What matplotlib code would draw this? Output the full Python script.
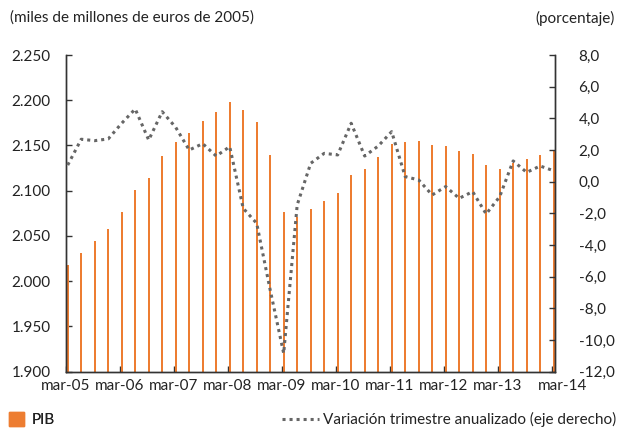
import matplotlib
matplotlib.use("Agg")
import matplotlib.pyplot as plt
import matplotlib.transforms as mtransforms
from matplotlib.lines import Line2D
from matplotlib.patches import Patch

plt.rcParams['font.family'] = ['Lato', 'DejaVu Sans']

# Quarterly data, mar-05 .. mar-14 (37 quarters)
pib = [2018, 2031, 2044, 2058, 2077, 2101, 2114, 2138, 2154, 2164,
       2177, 2187, 2198, 2189, 2176, 2140, 2077, 2071, 2080, 2089,
       2098, 2117, 2124, 2137, 2152, 2154, 2155, 2151, 2149, 2144,
       2141, 2128, 2124, 2131, 2135, 2139, 2144]
variacion = [1.05, 2.68, 2.59, 2.70, 3.69, 4.59, 2.63, 4.42, 3.43, 2.00,
             2.40, 1.62, 2.21, -1.68, -2.63, -6.84, -10.84, -1.47, 1.16, 1.79,
             1.69, 3.69, 1.62, 2.25, 3.16, 0.32, 0.11, -0.84, -0.31, -1.05,
             -0.63, -2.04, -0.95, 1.31, 0.59, 0.99, 0.69]
year_labels = ['mar-05', 'mar-06', 'mar-07', 'mar-08', 'mar-09',
               'mar-10', 'mar-11', 'mar-12', 'mar-13', 'mar-14']
left_ticks = [1900, 1950, 2000, 2050, 2100, 2150, 2200, 2250]
right_ticks = [-12, -10, -8, -6, -4, -2, 0, 2, 4, 6, 8]

orange = '#ED7D31'
grey = '#666666'
txt = '#222222'
fs = 11

fig = plt.figure(figsize=(6.17, 4.29), dpi=100)
ax = fig.add_axes([65.7 / 617, 1 - 371.7 / 429, (555 - 65.7) / 617, (371.7 - 55) / 429])
ax2 = ax.twinx()

x = list(range(len(pib)))
ax.bar(x, pib, width=0.14, color=orange, zorder=2)
ax2.plot(x, variacion, color=grey, lw=2.2, linestyle=(0, (1, 1.3)),
         dash_capstyle='butt', zorder=3)

ax.set_ylim(1900, 2250)
ax2.set_ylim(-12, 8)
ax.set_xlim(-0.15, 36.1)

ax.set_yticks(left_ticks)
ax.set_yticklabels(['{:,}'.format(v).replace(',', '.') for v in left_ticks])
ax2.set_yticks(right_ticks)
ax2.set_yticklabels(['{:.1f}'.format(v).replace('.', ',') for v in right_ticks])
ax.set_xticks([4 * i - 0.15 for i in range(len(year_labels))])
ax.set_xticklabels(year_labels)

for a in (ax, ax2):
    a.spines['top'].set_visible(False)
    for s in ('left', 'right', 'bottom'):
        a.spines[s].set_color('#333333')
        a.spines[s].set_linewidth(1.0)
    a.tick_params(direction='in', length=4, width=1, color='#333333',
                  labelsize=fs, labelcolor=txt)
ax.tick_params(axis='y', pad=11)
ax.tick_params(axis='x', pad=5.5)
ax2.tick_params(axis='y', pad=17)

# last label sits a bit right of its tick
last = ax.get_xticklabels()[-1]
last.set_transform(last.get_transform() +
                   mtransforms.ScaledTranslation(11 / 100, 0, fig.dpi_scale_trans))

fig.text(10 / 617, 1 - 18 / 429, '(miles de millones de euros de 2005)',
         fontsize=fs, color=txt, va='center', ha='left')
fig.text(615 / 617, 1 - 18 / 429, '(porcentaje)',
         fontsize=fs, color=txt, va='center', ha='right')

leg1 = fig.legend(handles=[Patch(color=orange, label='PIB')], loc='lower left',
                  bbox_to_anchor=(9 / 617, 2 / 429), frameon=False, fontsize=fs,
                  handlelength=1.0, handleheight=1.0, handletextpad=0.45,
                  borderpad=0, borderaxespad=0, labelcolor=txt)
fig.legend(handles=[Line2D([], [], color=grey, lw=2.2, linestyle=(0, (1, 1.3)),
                           dash_capstyle='butt',
                           label='Variación trimestre anualizado (eje derecho)')],
           loc='lower right', bbox_to_anchor=(616 / 617, 2 / 429), frameon=False,
           fontsize=fs, handlelength=2.4, handletextpad=0.25,
           borderpad=0, borderaxespad=0, labelcolor=txt)
fig.add_artist(leg1)

fig.savefig('out.png', dpi=100)
